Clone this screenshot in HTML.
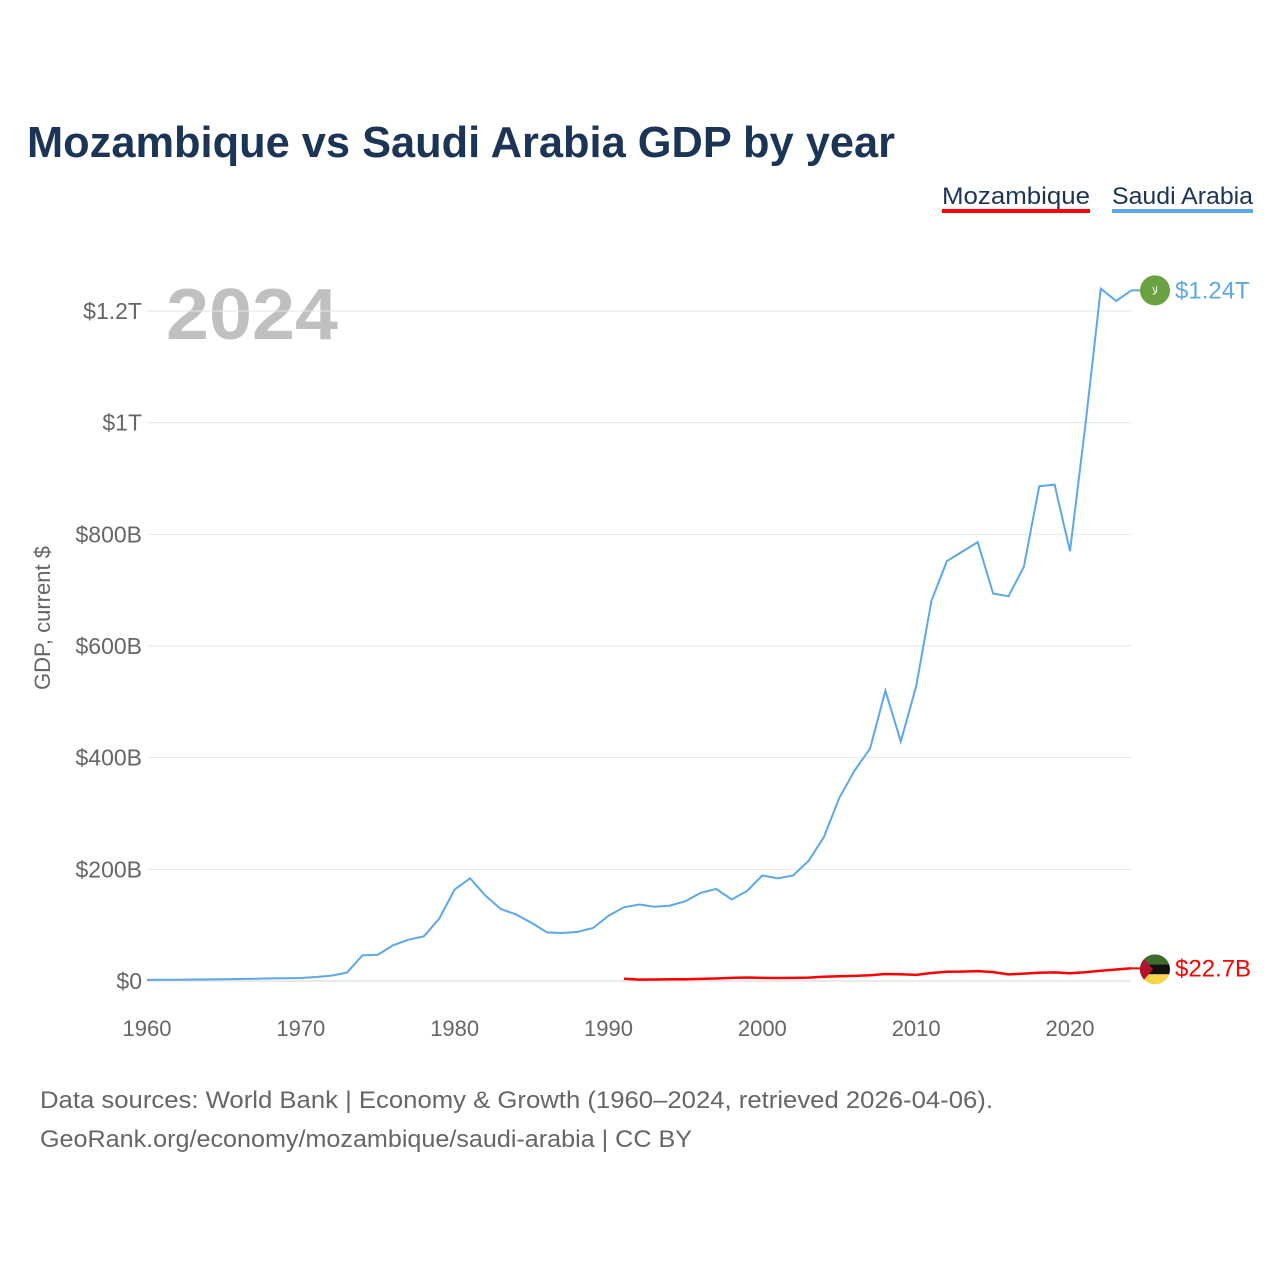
<!DOCTYPE html>
<html><head><meta charset="utf-8"><style>
body{margin:0;background:#fff;font-family:"Liberation Sans",sans-serif;}
svg{display:block}
</style></head><body>
<svg width="1280" height="1280" viewBox="0 0 1280 1280">
<text x="27" y="157" font-size="44" font-weight="bold" fill="#1c3557" textLength="868" lengthAdjust="spacingAndGlyphs">Mozambique vs Saudi Arabia GDP by year</text>
<g><text x="942" y="204" font-size="24" fill="#1c3557" textLength="148" lengthAdjust="spacingAndGlyphs">Mozambique</text><rect x="942" y="209" width="148" height="4" fill="#ff0000"/></g>
<g><text x="1112" y="204" font-size="24" fill="#1c3557" textLength="141" lengthAdjust="spacingAndGlyphs">Saudi Arabia</text><rect x="1112" y="209" width="141" height="4" fill="#5ba8ea"/></g>
<text x="166" y="339" font-size="72" font-weight="bold" fill="#c0c0c0" textLength="172" lengthAdjust="spacingAndGlyphs">2024</text>
<text transform="translate(50,618) rotate(-90)" text-anchor="middle" font-size="22" fill="#666">GDP, current $</text>
<g id="grid"></g><g id="yt"></g><g id="xt"></g><g id="lines"></g>
<g><circle id="saf" cx="1155" cy="288" r="15" fill="#6aa242"/><text id="saft" x="1155" y="292" font-size="11" fill="#fff" text-anchor="middle">ﻻ</text></g>
<text id="salbl" x="1175" y="296" font-size="24" fill="#5ba8ea">$1.24T</text>
<g id="mzf"></g>
<text id="mzlbl" x="1175" y="974" font-size="24" fill="#ff0000">$22.7B</text>
<text x="40" y="1108" font-size="24" fill="#666" textLength="953" lengthAdjust="spacingAndGlyphs">Data sources: World Bank | Economy &amp; Growth (1960–2024, retrieved 2026-04-06).</text>
<text x="40" y="1147" font-size="24" fill="#666" textLength="652" lengthAdjust="spacingAndGlyphs">GeoRank.org/economy/mozambique/saudi-arabia | CC BY</text>
</svg>
<script>
const saYears=[];for(let y=1960;y<=2024;y++)saYears.push(y);
const saudiGdp=[2,2.2,2.4,2.6,2.9,3.2,3.6,4.1,4.6,5.1,5.4,7.2,9.7,15,46,47,64,74,80,112,164,184,153,129,119,104,87,86,88,95,117,132,137,133,135,143,158,165,146,161,189,184,189,215,258,328,377,416,520,429,528,681,752,769,786,694,689,742,886,889,770,996,1240,1218,1237];
const mzYears=[];for(let y=1991;y<=2024;y++)mzYears.push(y);
const mozGdp=[4,2.5,2.6,3,3.2,3.7,4.5,5.5,6.3,5.5,5.3,5.6,6,7.5,8.6,9.2,10.4,12.5,12,11,14.3,16.4,16.9,17.7,16,11.9,13.2,14.8,15.4,14,15.8,18.4,20.6,22.7];
const yTicks=[0,200,400,600,800,1000,1200];
const yTickLabels=["$0","$200B","$400B","$600B","$800B","$1T","$1.2T"];
const xTicks=[1960,1970,1980,1990,2000,2010,2020];
const X=y=>147+(y-1960)*923/60, Y=v=>981-v*670/1200;
const NS="http://www.w3.org/2000/svg";
function mk(t,a,p){const e=document.createElementNS(NS,t);for(const k in a)e.setAttribute(k,a[k]);document.getElementById(p).appendChild(e);return e;}
yTicks.forEach((v,i)=>{
 const l=mk('line',{x1:147,x2:1131,y1:Y(v),y2:Y(v),stroke:v?'#e6e6e6':'#d6d6d6','stroke-width':1},'grid');
 
 
 const t=mk('text',{x:142,y:Y(v)+8,'text-anchor':'end','font-size':23,fill:'#666'},'yt');t.textContent=yTickLabels[i];
 
 
});
xTicks.forEach(v=>{
 const t=mk('text',{x:X(v),y:1036,'text-anchor':'middle','font-size':22,fill:'#666'},'xt');t.textContent=v;
 
 
});
const p1=mk('path',{d:saudiGdp.map((v,i)=>(i?'L':'M')+X(saYears[i]).toFixed(1)+','+Y(v).toFixed(1)).join(''),fill:'none',stroke:'#5ba8ea','stroke-width':2},'lines');


const p2=mk('path',{d:mozGdp.map((v,i)=>(i?'L':'M')+X(mzYears[i]).toFixed(1)+','+Y(v).toFixed(1)).join(''),fill:'none',stroke:'#ff0000','stroke-width':2.5},'lines');


const sy=Y(saudiGdp[saudiGdp.length-1]), my=Y(mozGdp[mozGdp.length-1]);
mk('line',{x1:X(2024),x2:1140,y1:sy,y2:sy,stroke:'#5ba8ea','stroke-width':2},'lines');
mk('line',{x1:X(2024),x2:1140,y1:my,y2:my,stroke:'#ff0000','stroke-width':2},'lines');
document.getElementById('saf').setAttribute('cy',sy);document.getElementById('saft').setAttribute('y',sy+4);
document.getElementById('salbl').setAttribute('y',sy+8);document.getElementById('mzlbl').setAttribute('y',my+8);
const cy=my+1;
mk('clipPath',{id:'mc'},'mzf');mk('circle',{cx:1155,cy:cy,r:15},'mc');
mk('rect',{x:1140,y:cy-15,width:30,height:10,fill:'#3e6b2e','clip-path':'url(#mc)'},'mzf');
mk('rect',{x:1140,y:cy-5,width:30,height:10,fill:'#111','clip-path':'url(#mc)'},'mzf');
mk('rect',{x:1140,y:cy+5,width:30,height:10,fill:'#f7d54a','clip-path':'url(#mc)'},'mzf');
mk('polygon',{points:`1140,${cy-15} 1153,${cy} 1140,${cy+15}`,fill:'#b3142b','clip-path':'url(#mc)'},'mzf');
</script>
</body></html>
